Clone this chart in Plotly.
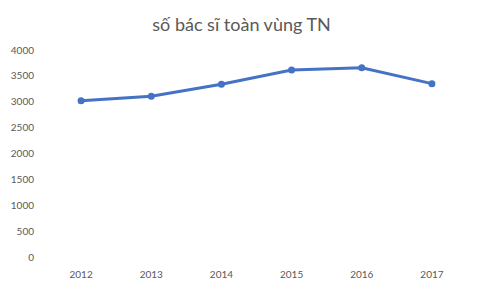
import plotly.graph_objects as go

years = ["2012", "2013", "2014", "2015", "2016", "2017"]
doctors = [3020, 3105, 3337, 3613, 3658, 3350]
y_ticks = [0, 500, 1000, 1500, 2000, 2500, 3000, 3500, 4000]

fig = go.Figure()
fig.add_trace(go.Scatter(
    x=years, y=doctors, mode="lines+markers",
    line=dict(color="#4472C4", width=3),
    marker=dict(color="#4472C4", size=7),
))
fig.update_layout(
    width=486, height=294,
    margin=dict(l=46, r=19, t=50, b=37),
    paper_bgcolor="white", plot_bgcolor="white",
    showlegend=False,
    title=dict(text="số bác sĩ toàn vùng TN", x=0.497, xanchor="center", y=0.915, yanchor="middle",
               font=dict(family="Lato", size=18, color="#595959")),
    font=dict(family="Lato", size=10, color="#595959"),
)
fig.update_xaxes(type="category", range=[-0.5, 5.5], showgrid=False, showline=False, zeroline=False, ticks="",
                 ticklabelstandoff=10, tickfont=dict(size=10, color="#595959"))
fig.update_yaxes(range=[0, 4000], tickvals=y_ticks, showgrid=False, showline=False, zeroline=False,
                 ticks="", ticklabelstandoff=11, tickfont=dict(size=10, color="#595959"))
fig.write_html("out.html")
